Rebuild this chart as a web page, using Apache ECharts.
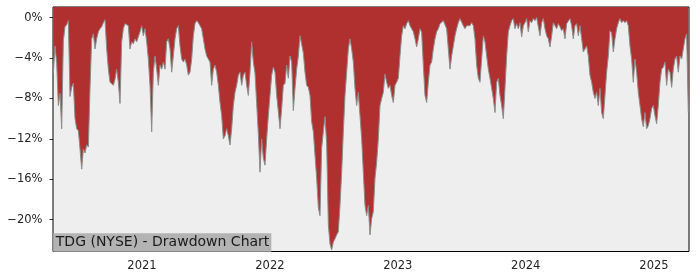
<!DOCTYPE html>
<html>
<head>
<meta charset="utf-8">
<script src="https://cdn.jsdelivr.net/npm/echarts@6/dist/echarts.min.js"></script>
<style>html,body{margin:0;padding:0;background:#fff}#c{width:700px;height:280px}</style>
</head>
<body>
<div id="c"></div>
<script>
// Drawdown (%), evenly spaced from firstDate to lastDate
const firstDate = [2020, 3, 23];
const lastDate = [2025, 3, 9];
const part1 = [-5.5,-2.8,-4.5,-8.7,-7.5,-11.0,-2.3,-0.9,-0.7,-0.3,
  -7.8,-6.9,-6.5,-10.0,-11.0,-11.2,-13.0,-15.0,-13.0,-13.4,
  -12.6,-12.8,-7.0,-2.1,-1.6,-3.1,-2.1,-1.4,-1.1,-0.9,
  -0.5,-0.2,-3.1,-5.1,-6.4,-6.4,-6.7,-6.1,-5.1,-6.4,
  -8.5,-2.4,-1.1,-0.6,-0.5,-0.8];
const part2 = [-3.1,-2.4,-2.6,-2.1,-2.4,-1.9,-1.4,-0.8,-1.8,-1.1,
  -2.4,-4.1,-6.7,-11.3,-5.4,-3.8,-5.1,-6.7,-4.7,-5.1,
  -4.4,-5.1,-2.4,-2.1,-3.1,-5.4,-3.8,-2.1,-1.1,-0.8,
  -2.8,-4.1,-4.4,-4.1,-4.7,-5.7,-5.4,-4.1,-1.8,-0.6,
  -0.3,-0.5,-0.6,-1.1,-2.1,-3.1,-3.8,-4.1];
const part3 = [-4.4,-6.7,-5.1,-4.7,-5.4,-6.7,-8.4,-9.7,-12.0,-11.7,
  -11.0,-11.7,-12.6,-11.0,-8.7,-7.4,-6.7,-5.7,-5.4,-6.7,
  -5.7,-5.4,-6.7,-7.7,-5.4,-2.4,-4.4,-5.5,-8.5,-11.5,
  -15.3,-12.0,-13.9,-14.6,-12.0,-9.7,-7.7,-5.7,-4.9,-5.4,
  -7.7,-9.3,-11.0,-9.0,-6.7,-6.5,-4.7,-6.0];
const part4 = [-3.8,-4.4,-9.2,-7.0,-5.1,-3.8,-1.8,-1.9,-3.5,-5.4,
  -6.7,-6.9,-7.7,-10.3,-11.3,-13.6,-15.9,-18.8,-19.6,-12.9,
  -11.3,-9.8,-12.5,-20.5,-22.4,-23.0,-22.2,-21.9,-21.5,-21.2,
  -18.6,-15.3,-11.3,-7.7,-5.4,-3.1,-2.1,-3.1,-4.4,-7.0,
  -8.7,-7.4,-9.7,-12.0,-15.3,-18.6,-19.6,-18.6];
const part5 = [-21.5,-19.9,-19.2,-15.9,-14.3,-12.0,-8.7,-8.0,-7.4,-5.6,
  -6.4,-7.0,-6.7,-7.7,-8.4,-6.7,-6.4,-6.0,-3.8,-1.8,
  -0.8,-1.1,-0.6,-0.3,-0.8,-1.1,-1.4,-2.1,-2.9,-2.1,
  -1.1,-1.45,-4.7,-7.7,-8.4,-6.4,-4.7,-4.4,-3.1,-2.1,
  -1.4,-1.1,-0.6,-0.5,-0.3,-0.3,-1.1,-3.1];
const part6 = [-5.1,-3.8,-2.8,-1.8,-1.1,-0.5,-0.1,0,-0.8,-1.1,
  -0.8,-0.9,-0.8,-0.5,-0.8,-2.1,-4.7,-6.0,-6.4,-4.1,
  -1.8,-2.4,-3.8,-5.1,-6.0,-7.0,-8.0,-9.4,-6.4,-6.0,
  -7.7,-8.7,-10.0,-7.0,-3.8,-1.4,-0.8,-0.3,-0.1,-1.1,
  -0.6,-1.1,-0.5,-1.9,-0.8,-0.5,-0.1,-1.4];
const part7 = [-0.3,-0.5,-0.1,-0.3,0,-0.1,-1.8,-0.5,-0.1,-1.1,
  -1.8,-2.1,-2.9,-1.8,-0.5,-0.8,-1.1,-0.6,-0.9,-1.3,
  -1.1,-2.1,-0.6,-0.5,-0.1,-0.8,-2.1,-0.8,-0.6,-1.8,
  -0.8,-2.1,-3.4,-3.1,-2.8,-3.8,-5.7,-6.4,-7.4,-8.0,
  -7.4,-8.7,-7.0,-9.4,-10.0,-7.7,-5.4,-3.8];
const part8 = [-1.3,-1.5,-3.4,-2.1,-1.1,-0.5,-0.1,-0.5,-0.3,-0.5,
  -0.3,-0.8,-2.8,-4.1,-6.4,-4.1,-5.4,-7.4,-8.7,-10.0,
  -10.8,-9.4,-11.0,-10.7,-10.0,-9.0,-8.7,-9.7,-10.5,-8.7,
  -6.4,-5.1,-4.9,-4.4,-6.7,-5.1,-5.4,-6.9,-5.1,-4.1,
  -3.8,-5.4,-3.8,-4.1,-3.1,-2.1,-1.6,-9.4];
const yearLabels = ['2021','2022','2023','2024','2025'];
const yTicks = [0,-4,-8,-12,-16,-20];
const titleText = 'TDG (NYSE) - Drawdown Chart';

const values = [].concat(part1,part2,part3,part4,part5,part6,part7,part8);
const t0 = new Date(firstDate[0], firstDate[1], firstDate[2]).getTime();
const t1 = new Date(lastDate[0], lastDate[1], lastDate[2]).getTime();
const step = (t1 - t0) / (values.length - 1);
const data = values.map((v, i) => [t0 + i * step, v]);
const yearTicks = yearLabels.map(y => new Date(+y, 0, 1).getTime());

const chart = echarts.init(document.getElementById('c'), null, {renderer: 'canvas'});
const font = '"DejaVu Sans", sans-serif';
chart.setOption({
  animation: false,
  backgroundColor: '#ffffff',
  grid: {left: 53, top: 7, width: 636, height: 244.5, show: true,
    backgroundColor: '#eeeeee', borderColor: '#000', borderWidth: 1, z: 0},
  xAxis: {
    type: 'value',
    min: new Date(2020, 3, 22).getTime(),
    max: new Date(2025, 3, 11).getTime(),
    axisLine: {show: false},
    splitLine: {show: false},
    axisTick: {show: true, length: 3.5, lineStyle: {color: '#000', width: 0.8}, customValues: yearTicks},
    axisLabel: {customValues: yearTicks, margin: 9, fontSize: 11.5, fontFamily: font, color: '#222',
      formatter: v => String(new Date(v).getFullYear())}
  },
  yAxis: {
    type: 'value',
    min: -23.15, max: 1.05,
    axisLine: {show: false},
    splitLine: {show: false},
    axisTick: {show: true, length: 3.5, lineStyle: {color: '#000', width: 0.8}, customValues: yTicks},
    axisLabel: {customValues: yTicks, margin: 10.5, fontSize: 11.5, fontFamily: font, color: '#222',
      formatter: v => (v < 0 ? '\u2212' : '') + Math.abs(v) + '%'}
  },
  series: [{
    type: 'line',
    data: data,
    symbol: 'none',
    showSymbol: false,
    lineStyle: {color: '#8c8c8c', width: 1},
    areaStyle: {color: '#b03030', opacity: 1, origin: 'end'},
    z: 2
  }],
  graphic: [{
    type: 'text', x: 53.3, y: 233.3, z: 100,
    style: {text: titleText, font: '14px ' + font, fill: '#1a1a1a',
      backgroundColor: '#b3b3b3', padding: [1, 2, 1.5, 2.5], lineHeight: 16,
      align: 'left', verticalAlign: 'top'}
  }]
});
</script>
</body>
</html>
